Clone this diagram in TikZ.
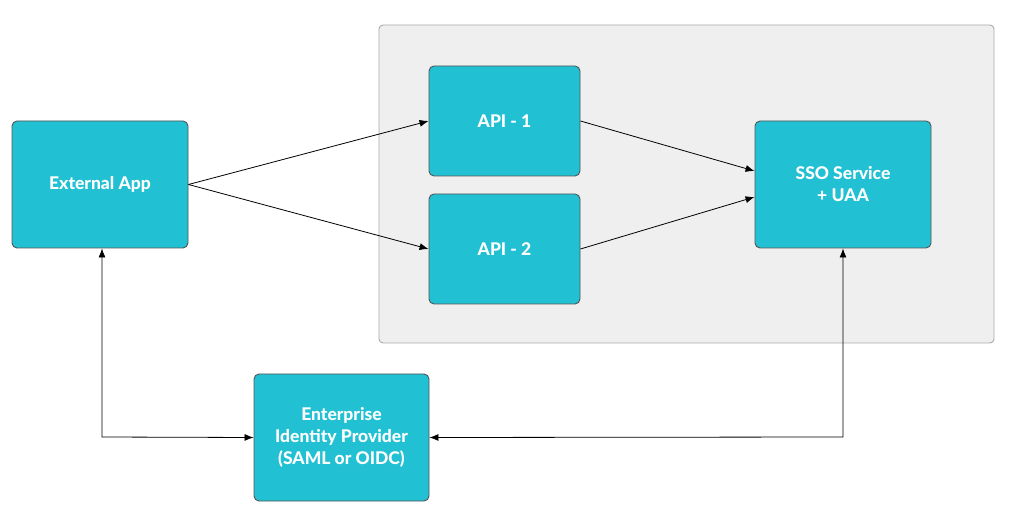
\documentclass[tikz,border=0pt]{standalone}
\usepackage{fontspec}
\setmainfont{Lato}[BoldFont={Lato Heavy}]
\usetikzlibrary{arrows.meta}
\definecolor{boxfill}{HTML}{21C1D3}
\definecolor{boxline}{HTML}{555555}
\definecolor{grpfill}{HTML}{EFEFEF}
\definecolor{grpline}{HTML}{AAAAAA}
\tikzset{
  svcbox/.style={draw=boxline, line width=0.9pt, fill=boxfill, rounded corners=5pt,
    text=white, font=\bfseries\fontsize{17.5}{22}\selectfont, align=center, inner sep=0pt},
  conn/.style={draw=black, line width=0.8pt, -{Latex[length=9pt,width=7pt]}},
  bconn/.style={draw=black, line width=0.8pt, {Latex[length=9pt,width=7pt]}-{Latex[length=9pt,width=7pt]}}
}
\begin{document}
\begin{tikzpicture}[x=1pt,y=-1pt]
\useasboundingbox (0,0) rectangle (1017,518);
\fill[white] (0,0) rectangle (1017,518);
\node[draw=grpline, line width=0.9pt, fill=grpfill, rounded corners=4pt, minimum width=615pt, minimum height=318pt, inner sep=0pt] (grp) at (686.5,184) {};
\node[svcbox, minimum width=176pt, minimum height=127pt] (ext) at (100,184.5) {External App};
\node[svcbox, minimum width=151pt, minimum height=110pt] (api1) at (504.5,121) {API - 1};
\node[svcbox, minimum width=151pt, minimum height=110pt] (api2) at (504.5,249) {API - 2};
\node[svcbox, minimum width=176pt, minimum height=127pt] (sso) at (843,184.5) {SSO Service\\+ UAA};
\node[svcbox, minimum width=175pt, minimum height=127pt] (idp) at (341.5,437.5) {Enterprise\\Identity Provider\\(SAML or OIDC)};
\coordinate (c1) at (102,437);
\coordinate (c2) at (843,437);
\draw[conn] (ext.east) -- (api1.west);
\draw[conn] (ext.east) -- (api2.west);
\draw[conn] (api1.east) -- ([yshift=13.5pt]sso.west);
\draw[conn] (api2.east) -- ([yshift=-12.5pt]sso.west);
\draw[bconn] (ext.south -| c1) -- (c1) -- (idp.west);
\draw[bconn] (sso.south -| c2) -- (c2) -- (idp.east);
\end{tikzpicture}
\end{document}
